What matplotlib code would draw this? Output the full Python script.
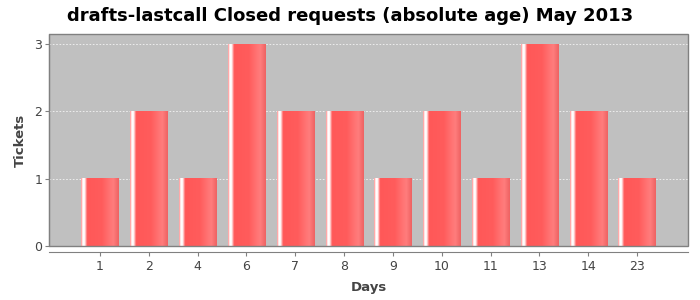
import numpy as np
import matplotlib
matplotlib.use("Agg")
import matplotlib.pyplot as plt
import matplotlib.patches as patches

# data
days = ["1", "2", "4", "6", "7", "8", "9", "10", "11", "13", "14", "23"]
tickets = [1, 2, 1, 3, 2, 2, 1, 2, 1, 3, 2, 1]

title = "drafts-lastcall Closed requests (absolute age) May 2013"

# gradient like the java chart bars (position across bar, rgb)
stops = [(0.0, (255, 140, 140)), (0.03, (255, 215, 215)), (0.05, (255, 255, 255)),
         (0.09, (255, 255, 255)), (0.12, (255, 190, 190)), (0.16, (255, 88, 88)),
         (0.55, (255, 92, 92)), (0.85, (255, 125, 125)), (1.0, (238, 98, 98))]

fig = plt.figure(figsize=(7, 3), dpi=100)
ax = fig.add_axes([49 / 700, 1 - 246 / 300, 639 / 700, 212 / 300])
ax.set_facecolor("#C0C0C0")

x = np.arange(len(days))
bars = ax.bar(x, tickets, width=0.76, color="#FF5A5A", linewidth=0, zorder=2)

# paint gradient on each bar
n = 200
pos = np.linspace(0, 1, n)
sx = [s[0] for s in stops]
grad = np.zeros((1, n, 3))
for c in range(3):
    grad[0, :, c] = np.interp(pos, sx, [s[1][c] / 255 for s in stops])
for b in bars:
    x0 = b.get_x()
    ax.imshow(grad, extent=(x0, x0 + b.get_width(), 0, b.get_height()),
              aspect="auto", interpolation="bilinear", zorder=3)

ax.set_xlim(-1.045, len(days) - 1 + 1.045)
ax.set_ylim(0, 3.15)
ax.set_yticks([0, 1, 2, 3])
ax.set_xticks(x)
ax.set_xticklabels(days)

ax.yaxis.grid(True, color="#F4F4F4", linestyle=(0, (2, 2)), linewidth=0.6)
ax.set_axisbelow(True)

for s in ["top", "right"]:
    ax.spines[s].set_visible(False)
ax.spines["left"].set_color("#808080")
ax.spines["bottom"].set_color("#808080")
ax.spines["bottom"].set_position(("outward", 4))
# outline of plot area
ax.add_patch(patches.Rectangle((0, 0), 1, 1, transform=ax.transAxes, fill=False,
                               edgecolor="#808080", linewidth=1, zorder=5, clip_on=False))

ax.tick_params(axis="both", colors="#808080", labelcolor="#444444", labelsize=9, length=3)
ax.tick_params(axis="x", pad=3)
ax.tick_params(axis="y", pad=2)

ax.set_xlabel("Days", fontsize=9.5, fontweight="bold", color="#444444", labelpad=6)
ax.set_ylabel("Tickets", fontsize=9.5, fontweight="bold", color="#444444", labelpad=5)

fig.text(350 / 700, 1 - 16 / 300, title, ha="center", va="center",
         fontsize=13, fontweight="bold", color="black")

fig.savefig("out.png", dpi=100)
